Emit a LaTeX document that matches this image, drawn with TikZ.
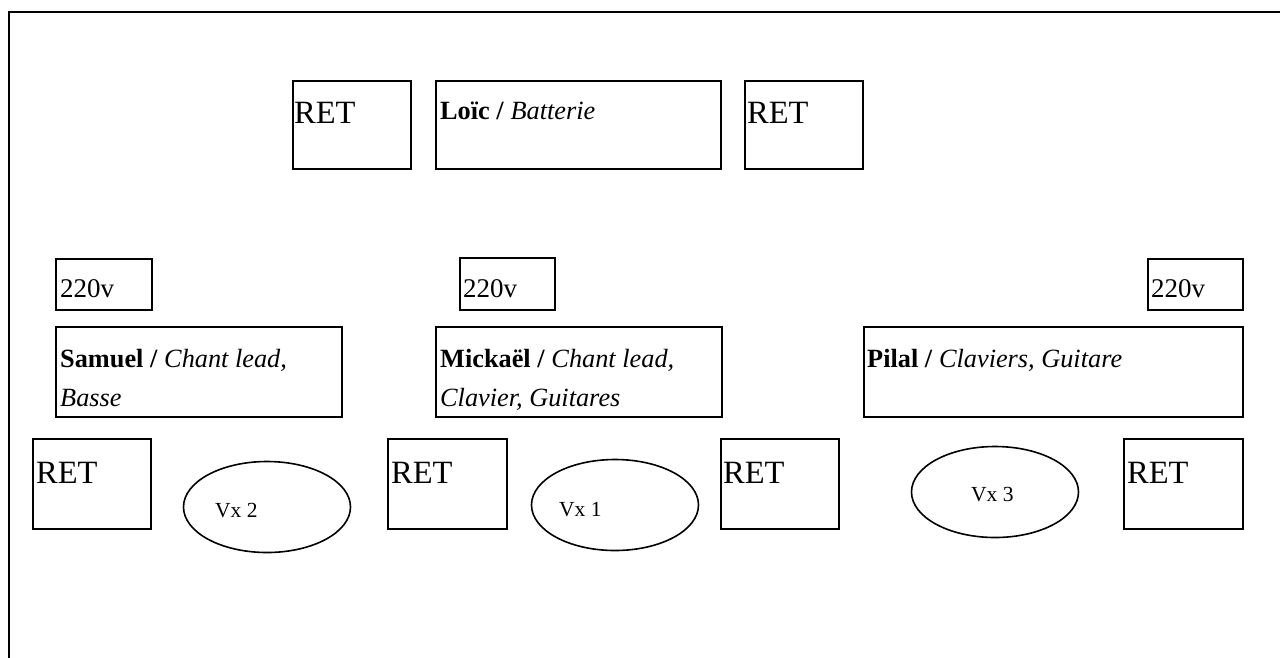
\documentclass[tikz,border=0pt]{standalone}
\usepackage{fontspec}
\setmainfont{Liberation Serif}
\usetikzlibrary{shapes.geometric}
\tikzset{
  box/.style={draw, line width=1.6pt, inner sep=0pt, anchor=north west},
  oval/.style={draw, line width=1.6pt, ellipse, inner sep=0pt},
  rettxt/.style={font=\fontsize{32.5}{36}\selectfont, anchor=base west, inner sep=0pt},
  volttxt/.style={font=\fontsize{27}{30}\selectfont, anchor=base west, inner sep=0pt},
  nametxt/.style={font=\fontsize{26.3}{39}\selectfont, anchor=base west, inner sep=0pt},
  vxtxt/.style={font=\fontsize{21.5}{24}\selectfont, anchor=base west, inner sep=0pt},
}
\begin{document}
\begin{tikzpicture}[x=1pt,y=-1pt]
\useasboundingbox (0,0) rectangle (1280,657);
\clip (0,0) rectangle (1280,657);
\fill[white] (0,0) rectangle (1280,657);
% outer frame (runs off right and bottom)
\draw[line width=1.6pt] (9,12) rectangle (1320,700);

% top row
\node[box, minimum width=118pt, minimum height=88pt] (retA) at (292,80) {};
\node[rettxt] (retAt) at (294,123) {RET};
\node[box, minimum width=285pt, minimum height=88pt] (loic) at (435,80) {};
\node[nametxt] (loict) at (440,119) {\textbf{Loïc /} \textit{Batterie}};
\node[box, minimum width=118pt, minimum height=88pt] (retB) at (744,80) {};
\node[rettxt] (retBt) at (747,123) {RET};

% 220v boxes
\node[box, minimum width=96pt, minimum height=51pt] (vA) at (55,258) {};
\node[volttxt] (vAt) at (60,297) {220v};
\node[box, minimum width=95pt, minimum height=52pt] (vB) at (459,257) {};
\node[volttxt] (vBt) at (463,297) {220v};
\node[box, minimum width=95pt, minimum height=51pt] (vC) at (1147,258) {};
\node[volttxt] (vCt) at (1151,297) {220v};

% musicians
\node[box, minimum width=286pt, minimum height=90pt] (sam) at (55,326) {};
\node[nametxt] (samt1) at (60,367) {\textbf{Samuel /} \textit{Chant lead,}};
\node[nametxt] (samt2) at (60,406) {\textit{Basse}};
\node[box, minimum width=286pt, minimum height=90pt] (mic) at (435,326) {};
\node[nametxt] (mict1) at (440,367) {\textbf{Mickaël /} \textit{Chant lead,}};
\node[nametxt] (mict2) at (440,406) {\textit{Clavier, Guitares}};
\node[box, minimum width=379pt, minimum height=90pt] (pil) at (863,326) {};
\node[nametxt] (pilt) at (867,367) {\textbf{Pilal /} \textit{Claviers, Guitare}};

% bottom RET boxes
\node[box, minimum width=118pt, minimum height=90pt] (ret1) at (32,438) {};
\node[rettxt] (ret1t) at (36,483) {RET};
\node[box, minimum width=119pt, minimum height=90pt] (ret2) at (387,438) {};
\node[rettxt] (ret2t) at (391,483) {RET};
\node[box, minimum width=118pt, minimum height=90pt] (ret3) at (720,438) {};
\node[rettxt] (ret3t) at (723,483) {RET};
\node[box, minimum width=119pt, minimum height=90pt] (ret4) at (1123,438) {};
\node[rettxt] (ret4t) at (1127,483) {RET};

% vocal monitors
\node[oval, minimum width=167pt, minimum height=91pt] (vx2) at (267,507) {};
\node[vxtxt] (vx2t) at (215,517) {Vx 2};
\node[oval, minimum width=167pt, minimum height=91pt] (vx1) at (615,505) {};
\node[vxtxt] (vx1t) at (559,516) {Vx 1};
\node[oval, minimum width=167pt, minimum height=91pt] (vx3) at (995,492) {};
\node[vxtxt] (vx3t) at (971,501) {Vx 3};
\end{tikzpicture}
\end{document}
